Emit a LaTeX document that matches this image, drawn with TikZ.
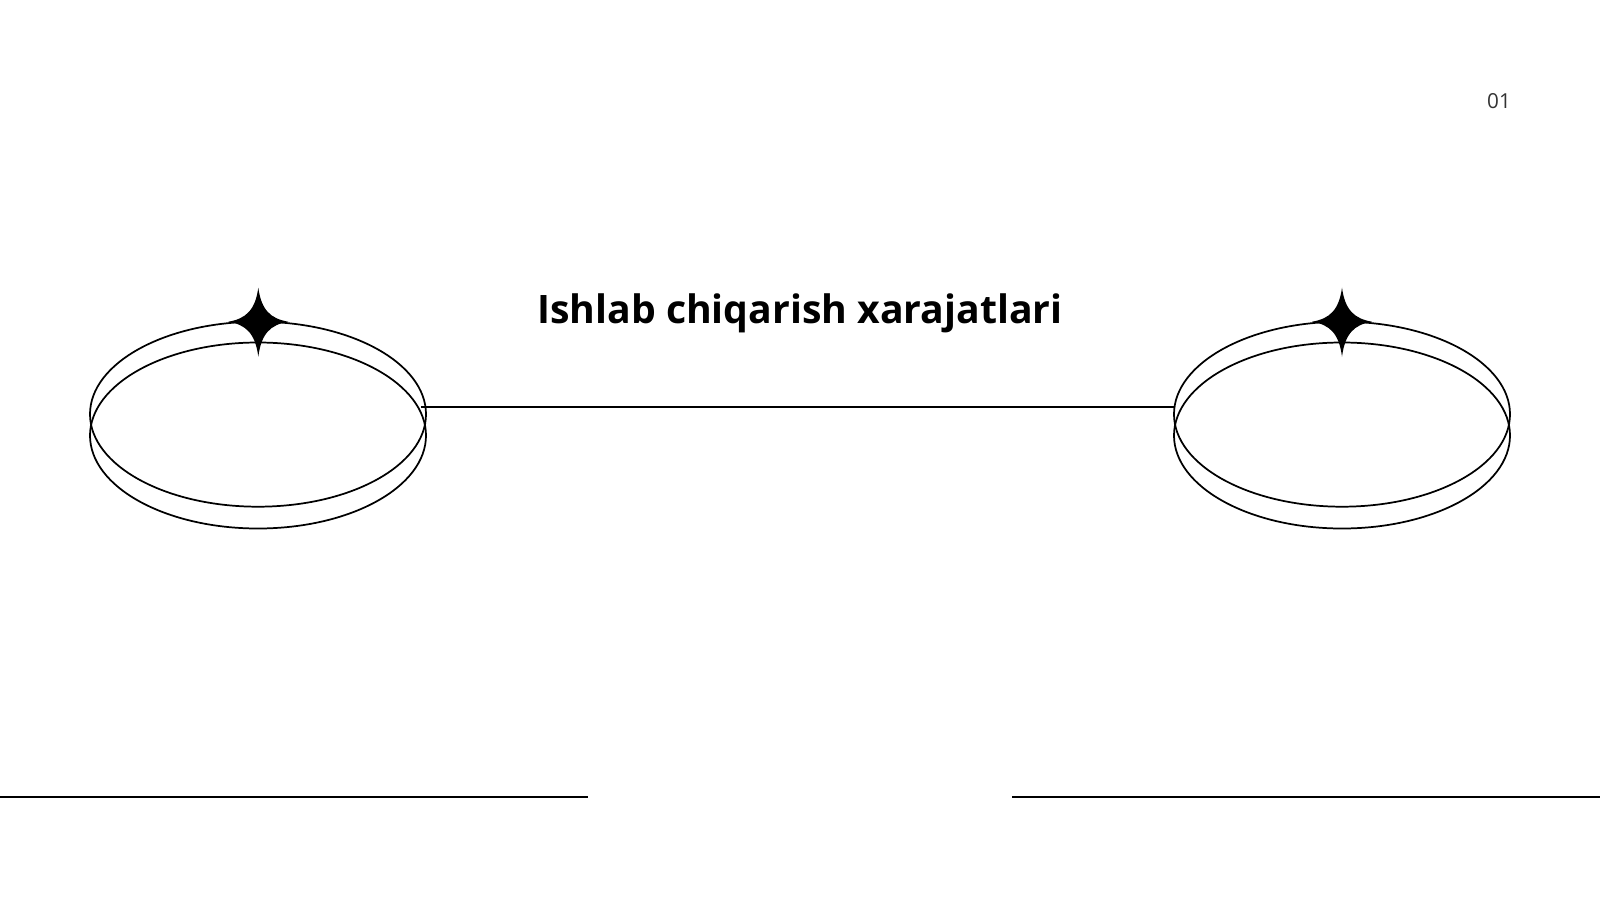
\documentclass[tikz,border=0pt]{standalone}
\usepackage{fontspec}
\setmainfont{Open Sans}
\usetikzlibrary{positioning}

\tikzset{
  ring/.style={line width=1.3pt},
  rule/.style={line width=1.4pt},
  link/.style={line width=1.3pt},
  sparkle/.pic={
    \fill (0,-35) .. controls (3,-12) and (12,-3) .. (30,0) .. controls (12,3) and (3,12) .. (0,34)
      .. controls (-3,12) and (-12,3) .. (-30,0) .. controls (-12,-3) and (-3,-12) .. (0,-35) -- cycle;
  }
}

\begin{document}
\begin{tikzpicture}[x=0.75pt,y=0.75pt,yscale=-1,xscale=1]
  \useasboundingbox (0,0) rectangle (1600,900);

  %Shape: Ellipse pair left
  \draw [ring] (258,414.2) ellipse (168 and 92.5);
  \draw [ring] (258,435.5) ellipse (168 and 93);
  \pic at (258.3,321.7) {sparkle};

  %Shape: Ellipse pair right
  \draw [ring] (1342,414.2) ellipse (168 and 92.5);
  \draw [ring] (1342,435.5) ellipse (168 and 93);
  \pic at (1342,321.7) {sparkle};

  %Straight Lines
  \coordinate (lefthub) at (421,407.3);
  \coordinate (righthub) at (1174,407.3);
  \draw [link] (lefthub) -- (righthub);

  \coordinate (footLa) at (0,797);
  \coordinate (footLb) at (588,797);
  \coordinate (footRa) at (1012,797);
  \coordinate (footRb) at (1600,797);
  \draw [rule] (footLa) -- (footLb);
  \draw [rule] (footRa) -- (footRb);

  % Text Node
  \node (title) [anchor=base, inner sep=0pt] at (800,323) {\fontsize{29.4}{35}\selectfont\bfseries Ishlab chiqarish xarajatlari};
  % Text Node
  \node (pageno) [anchor=base, inner sep=0pt, text=black!80] at (1499,108.5) {\fontsize{15.5}{18}\selectfont 01};
\end{tikzpicture}
\end{document}
